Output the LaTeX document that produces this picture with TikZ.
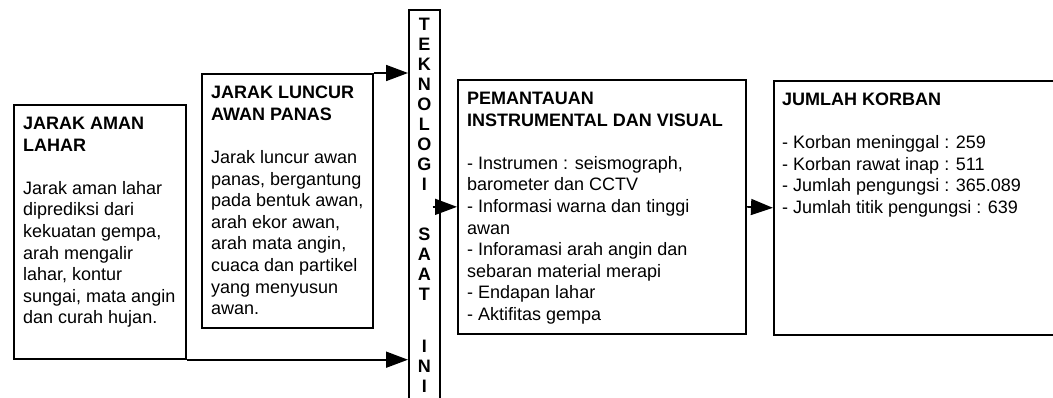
\documentclass[tikz,border=0pt]{standalone}
\usepackage{fontspec}
\setmainfont{Liberation Sans}
\usetikzlibrary{arrows.meta,positioning}

\begin{document}
\begin{tikzpicture}[x=1pt,y=-1pt,
panel/.style={draw,line width=1.7pt,anchor=north west,inner sep=0pt},
paneltext/.style={anchor=north west,inner sep=0pt,align=left,font=\fontsize{18}{21.6}\selectfont},
techtext/.style={anchor=north,inner sep=0pt,align=center,font=\fontsize{18}{20}\selectfont\bfseries},
link/.style={line width=1.7pt,-{Triangle[length=22pt,width=16pt]}}]
\clip (0,0) rectangle (1053,398);
% kotak
\node[panel,minimum width=172pt,minimum height=254pt] (aman) at (13,104) {};
\node[panel,minimum width=171pt,minimum height=254pt] (luncur) at (201,73) {};
\node[panel,minimum width=31pt,minimum height=420pt] (tech) at (408,9) {};
\node[panel,minimum width=288pt,minimum height=254pt] (pantau) at (457,79) {};
\node[panel,minimum width=320pt,minimum height=254pt] (korban) at (773,80) {};
% teks
\node[paneltext] (amanText) at ([xshift=10pt,yshift=-13pt]aman.north west)
{\textbf{JARAK AMAN}\\\textbf{LAHAR}\\[21.6pt]Jarak aman lahar\\diprediksi dari\\kekuatan gempa,\\arah mengalir\\lahar, kontur\\sungai, mata angin\\dan curah hujan.};
\node[paneltext] (luncurText) at ([xshift=10pt,yshift=-13pt]luncur.north west)
{\textbf{JARAK LUNCUR}\\\textbf{AWAN PANAS}\\[21.6pt]Jarak luncur awan\\panas, bergantung\\pada bentuk awan,\\arah ekor awan,\\arah mata angin,\\cuaca dan partikel\\yang menyusun\\awan.};
\node[techtext] (techText) at ([yshift=-9pt]tech.north)
{T\\E\\K\\N\\O\\L\\O\\G\\I\\[30pt]S\\A\\A\\T\\[32pt]I\\N\\I};
\node[paneltext] (pantauText) at ([xshift=10pt,yshift=-13pt]pantau.north west)
{\textbf{PEMANTAUAN}\\\textbf{INSTRUMENTAL DAN VISUAL}\\[21.6pt]- Instrumen : seismograph,\\barometer dan CCTV\\- Informasi warna dan tinggi\\awan\\- Inforamasi arah angin dan\\sebaran material merapi\\- Endapan lahar\\- Aktifitas gempa};
\node[paneltext] (korbanText) at ([xshift=9pt,yshift=-12.5pt]korban.north west)
{\textbf{JUMLAH KORBAN}\\[21.6pt]- Korban meninggal : 259\\- Korban rawat inap : 511\\- Jumlah pengungsi : 365.089\\- Jumlah titik pengungsi : 639};
% panah
\draw[link] (luncur.north east) -- (luncur.north east -| tech.west);
\draw[link] (aman.south east) -- (aman.south east -| tech.west);
\draw[link] ([xshift=-8pt]tech.east |- pantau.west) -- (pantau.west);
\draw[link] (pantau.east) -- (korban.west);
\end{tikzpicture}
\end{document}
